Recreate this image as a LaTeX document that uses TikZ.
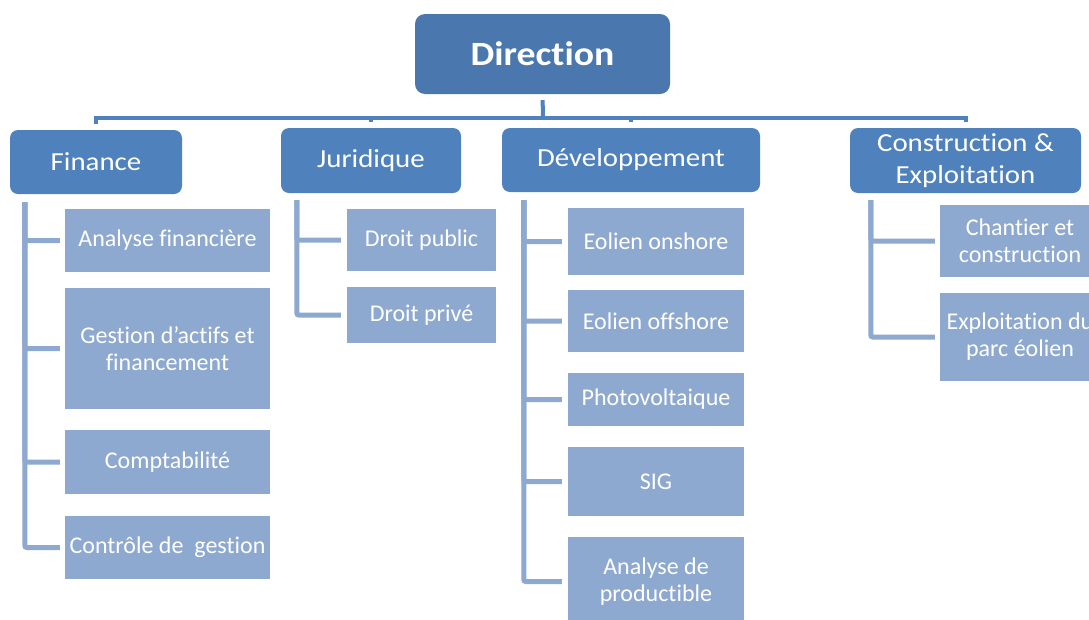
\documentclass[tikz,border=0pt]{standalone}
\usepackage{fontspec}
\setmainfont{Carlito}[Ligatures={TeX,NoCommon}]
\newfontfamily\widefont{Carlito}[FakeStretch=1.11, Ligatures={TeX,NoCommon}]
\usetikzlibrary{calc}
\definecolor{bossblue}{HTML}{4A77AD}
\definecolor{deptblue}{HTML}{4F81BD}
\definecolor{subblue}{HTML}{8EA9CF}
\tikzset{
  boss/.style= {fill=bossblue, text=white, rounded corners=10pt, align=center,
    font=\widefont\fontsize{34}{40}\selectfont\bfseries},
  dept/.style= {fill=deptblue, text=white, rounded corners=8pt, align=center,
    inner sep=2pt, font=\widefont\fontsize{26}{32}\selectfont},
  sub/.style= {fill=subblue, text=white, align=center, inner sep=2pt,
    font=\fontsize{24}{27}\selectfont},
  link/.style= {draw=deptblue, line width=4pt},
  sublink/.style= {draw=subblue, line width=5pt, rounded corners=2pt},
}

\begin{document}
\begin{tikzpicture}[x=1pt, y=-1pt]
  \useasboundingbox (0,0) rectangle (1089,619) ;
  \clip (0,0) rectangle (1089,619) ;
  \node [boss, minimum width=255pt, minimum height=80pt] (dir) at (542.5,54) {Direction} ;

  \node [dept, minimum width=172pt, minimum height=64pt] (fin) at (96,162) {Finance} ;
  \node [dept, minimum width=180pt, minimum height=65pt] (jur) at (371,160.5) {Juridique} ;
  \node [dept, minimum width=258pt, minimum height=64pt] (dev) at (631,160) {Développement} ;
  \node [dept, minimum width=231pt, minimum height=65pt] (con) at (965.5,160.5) {Construction \&\\Exploitation} ;

  % finance
  \node [sub, minimum width=205pt, minimum height=63pt] (fa) at (167.5,240.5) {Analyse financière} ;
  \node [sub, minimum width=205pt, minimum height=121pt] (fb) at (167.5,348.5) {Gestion d’actifs et\\financement} ;
  \node [sub, minimum width=205pt, minimum height=64pt] (fc) at (167.5,462) {Comptabilité} ;
  \node [sub, minimum width=205pt, minimum height=63pt] (fd) at (167.5,547.5) {Contrôle de\ \ gestion} ;

  % juridique
  \node [sub, minimum width=149pt, minimum height=62pt] (ja) at (421.5,240) {Droit public} ;
  \node [sub, minimum width=149pt, minimum height=56pt] (jb) at (421.5,315) {Droit privé} ;

  % developpement
  \node [sub, minimum width=176pt, minimum height=67pt] (da) at (656,241.5) {Eolien onshore} ;
  \node [sub, minimum width=176pt, minimum height=62pt] (db) at (656,321) {Eolien offshore} ;
  \node [sub, minimum width=176pt, minimum height=53pt] (dc) at (656,399.5) {Photovoltaique} ;
  \node [sub, minimum width=176pt, minimum height=69pt] (dd) at (656,481.5) {SIG} ;
  \node [sub, minimum width=176pt, minimum height=89pt] (de) at (656,581.5) {Analyse de\\productible} ;

  % construction
  \node [sub, minimum width=160pt, minimum height=72pt] (ca) at (1020,241) {Chantier et\\construction} ;
  \node [sub, minimum width=160pt, minimum height=88pt] (cb) at (1020,337) {Exploitation du\\parc éolien} ;

  \coordinate (bus) at (543,118) ;
  \draw [link, shorten <=6pt] (dir.south) -- (bus) ;
  \foreach \d in {fin,jur,dev,con}
    \draw [link, shorten >=6pt] (bus) -| (\d.north) ;

  \foreach \c in {fa,fb,fc,fd}
    \draw [sublink] ([xshift=15pt,yshift=-8pt]fin.south west) |- ([xshift=-5pt]\c.west) ;
  \foreach \c in {ja,jb}
    \draw [sublink] ([xshift=16pt,yshift=-7pt]jur.south west) |- ([xshift=-6pt]\c.west) ;
  \foreach \c in {da,db,dc,dd,de}
    \draw [sublink] ([xshift=22pt,yshift=-8pt]dev.south west) |- ([xshift=-6pt]\c.west) ;
  \foreach \c in {ca,cb}
    \draw [sublink] ([xshift=21pt,yshift=-7pt]con.south west) |- ([xshift=-5pt]\c.west) ;
\end{tikzpicture}
\end{document}
